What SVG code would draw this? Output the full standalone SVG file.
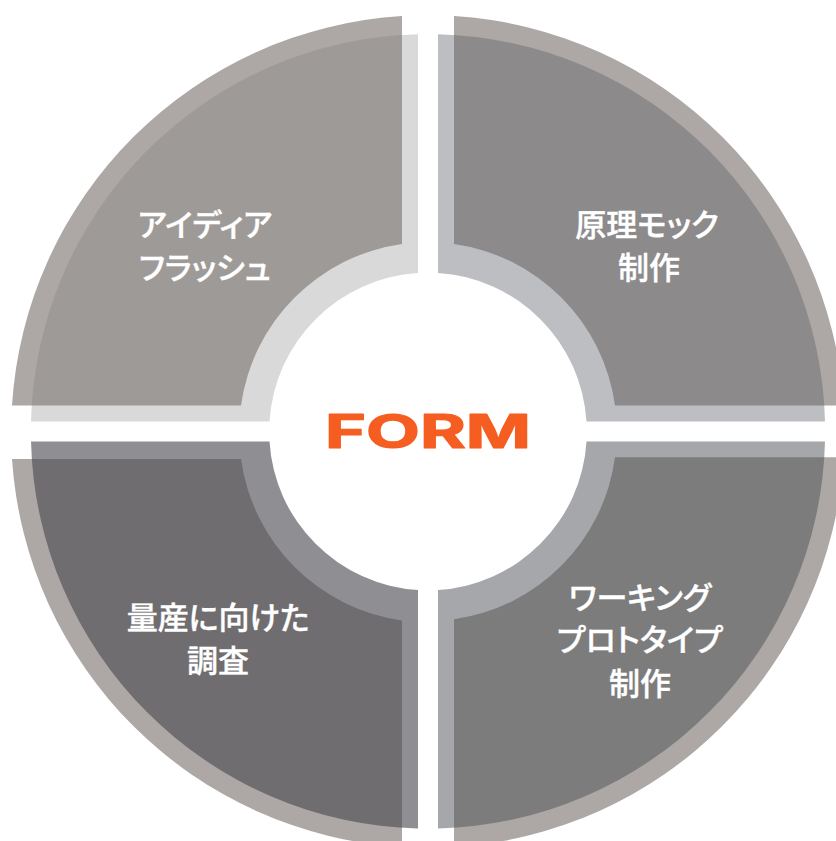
<svg xmlns="http://www.w3.org/2000/svg" width="836" height="841" viewBox="0 0 836 841">
<style>
.ring{fill:#ADA8A5}
.t{font-family:"Noto Sans CJK JP","Noto Sans",sans-serif;font-size:31px;font-weight:500;font-feature-settings:"palt";fill:#fff;stroke:#fff;stroke-width:.4;text-anchor:middle}
.logo{font-family:"Inter","Liberation Sans",sans-serif;font-weight:700;font-size:46px;fill:#F55D21;stroke:#F55D21;stroke-width:1.2;stroke-linejoin:round}
</style>
<rect width="836" height="841" fill="#fff"/>
<g id="node-idea">
<path class="ring" d="M12,405.5A416.5,416.5 0 0 1 402,16V244A189,189 0 0 0 241,405.5Z"/>
<path fill="#777" fill-opacity=".28" d="M31,421.5A397,397 0 0 1 418,34.3V273A158.5,158.5 0 0 0 269.5,421.5Z"/>
<text class="t" x="205" y="236">アイディア</text>
<text class="t" x="205" y="279">フラッシュ</text>
</g>
<g id="node-mock">
<path class="ring" d="M454,16A416.5,416.5 0 0 1 843.7,405.5H615A189,189 0 0 0 454,244Z"/>
<path fill="#5A5C64" fill-opacity=".4" d="M438,34.3A397,397 0 0 1 825,421.5H586.5A158.5,158.5 0 0 0 438,273Z"/>
<text class="t" x="647" y="236">原理モック</text>
<text class="t" x="649" y="279">制作</text>
</g>
<g id="node-prototype">
<path class="ring" d="M615,457.3H843.7A416.5,416.5 0 0 1 454,847V619.3A189,189 0 0 0 615,457.3Z"/>
<path fill="#4D4F55" fill-opacity=".5" d="M586.5,441.5H825A397,397 0 0 1 438,828.5V590A158.5,158.5 0 0 0 586.5,441.5Z"/>
<text class="t" x="640" y="609">ワーキング</text>
<text class="t" x="640" y="651">プロトタイプ</text>
<text class="t" x="640" y="695">制作</text>
</g>
<g id="node-mass">
<path class="ring" d="M12,459H241A189,189 0 0 0 402,620.5V847A416.5,416.5 0 0 1 12,459Z"/>
<path fill="#4A494F" fill-opacity=".62" d="M31,441.5H269.5A158.5,158.5 0 0 0 418,590V828.5A397,397 0 0 1 31,441.5Z"/>
<text class="t" x="218" y="629">量産に向けた</text>
<text class="t" x="218" y="672">調査</text>
</g>
<g id="node-form">
<text class="logo" x="325" y="448" textLength="206" lengthAdjust="spacingAndGlyphs">FORM</text>
</g>
<g id="connectors"></g>
</svg>
